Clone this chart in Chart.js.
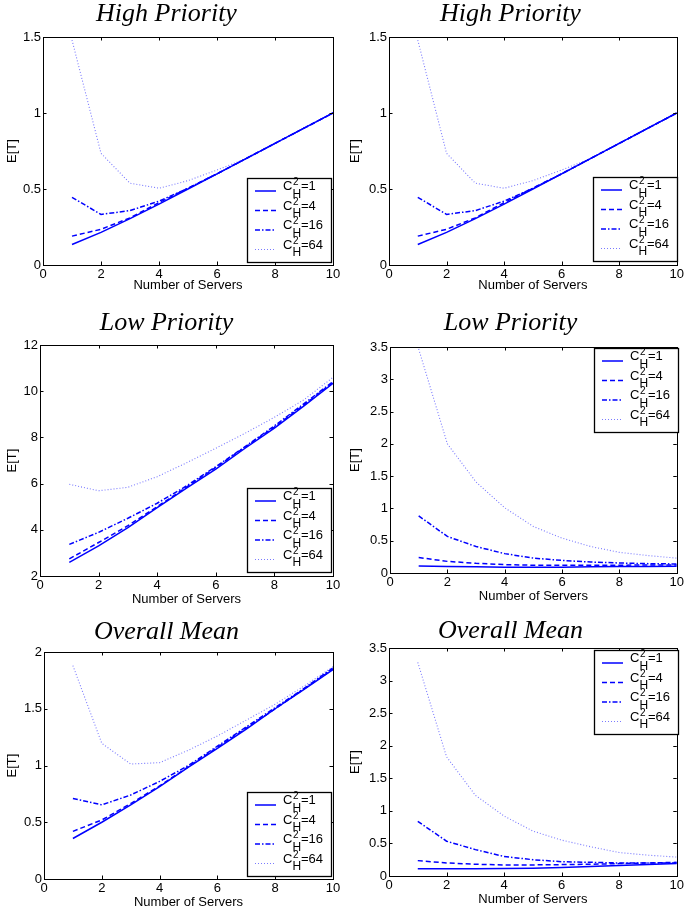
<!DOCTYPE html>
<html>
<head>
<meta charset="utf-8">
<script src="https://cdn.jsdelivr.net/npm/chart.js@4.4.1/dist/chart.umd.min.js"></script>
<style>
    html, body { margin: 0; padding: 0; background: #fff; }
    #page { position: relative; width: 686px; height: 913px; overflow: hidden; }
    .cell { position: absolute; }
</style>
</head>
<body>
<div id="page"></div>
<script>
// x values shared by every panel
const servers = [1, 2, 3, 4, 5, 6, 7, 8, 9, 10];
const cLabels = ["1", "4", "16", "64"];

// High Priority (both top panels)
const high1  = [0.135, 0.215, 0.305, 0.40, 0.50, 0.60, 0.70, 0.80, 0.90, 1.00];
const high4  = [0.19, 0.235, 0.31, 0.41, 0.505, 0.60, 0.70, 0.80, 0.90, 1.00];
const high16 = [0.445, 0.333, 0.358, 0.42, 0.505, 0.60, 0.70, 0.80, 0.90, 1.00];
const high64 = [1.48, 0.735, 0.538, 0.505, 0.555, 0.625, 0.70, 0.80, 0.90, 1.00];

// Low Priority, left panel
const lowA1  = [2.59, 3.30, 4.09, 4.96, 5.80, 6.63, 7.53, 8.40, 9.35, 10.34];
const lowA4  = [2.74, 3.45, 4.18, 5.00, 5.85, 6.70, 7.58, 8.45, 9.40, 10.38];
const lowA16 = [3.37, 3.89, 4.50, 5.15, 5.90, 6.73, 7.60, 8.50, 9.45, 10.42];
const lowA64 = [5.97, 5.69, 5.84, 6.30, 6.90, 7.53, 8.18, 8.87, 9.62, 10.60];

// Low Priority, right panel
const lowB1  = [0.11, 0.10, 0.095, 0.09, 0.09, 0.09, 0.095, 0.10, 0.10, 0.105];
const lowB4  = [0.24, 0.18, 0.15, 0.13, 0.12, 0.12, 0.12, 0.12, 0.125, 0.125];
const lowB16 = [0.885, 0.566, 0.41, 0.30, 0.23, 0.195, 0.17, 0.155, 0.145, 0.14];
const lowB64 = [3.47, 2.00, 1.41, 1.01, 0.72, 0.54, 0.41, 0.32, 0.27, 0.23];

// Overall Mean, left panel
const allA1  = [0.357, 0.50, 0.653, 0.814, 0.985, 1.15, 1.32, 1.50, 1.67, 1.845];
const allA4  = [0.42, 0.52, 0.665, 0.82, 0.99, 1.16, 1.33, 1.50, 1.675, 1.85];
const allA16 = [0.71, 0.653, 0.74, 0.86, 1.00, 1.17, 1.34, 1.51, 1.68, 1.86];
const allA64 = [1.88, 1.195, 1.013, 1.025, 1.135, 1.26, 1.40, 1.54, 1.70, 1.87];

// Overall Mean, right panel
const allB1  = [0.11, 0.11, 0.11, 0.115, 0.12, 0.13, 0.145, 0.16, 0.175, 0.19];
const allB4  = [0.236, 0.20, 0.18, 0.17, 0.17, 0.175, 0.18, 0.19, 0.20, 0.21];
const allB16 = [0.84, 0.534, 0.405, 0.30, 0.25, 0.22, 0.21, 0.20, 0.20, 0.20];
const allB64 = [3.28, 1.83, 1.24, 0.92, 0.69, 0.55, 0.45, 0.36, 0.32, 0.29];

const SANS = "'Liberation Sans', Arial, sans-serif";
const SERIF = "'Liberation Serif', 'Times New Roman', serif";

const lineStyles = [
    { color: "#0000ff", width: 1.5, dash: [] },
    { color: "#0000ff", width: 1.5, dash: [5, 3] },
    { color: "#0000ff", width: 1.5, dash: [5, 2, 1.5, 2] },
    { color: "#7a7aff", width: 1.1, dash: [1, 2] }
];

const panels = [
    { left: 0, top: 0, w: 343, h: 300, title: "High Priority", titleBase: 19, xTitleY: 285,
      plot: { l: 43, t: 37, r: 333, b: 265 }, yMin: 0, yMax: 1.5, yStep: 0.5,
      series: [high1, high4, high16, high64], legend: { x: 247, y: 178 } },
    { left: 343, top: 0, w: 343, h: 300, title: "High Priority", titleBase: 19, xTitleY: 285,
      plot: { l: 46, t: 37, r: 335, b: 265 }, yMin: 0, yMax: 1.5, yStep: 0.5,
      series: [high1, high4, high16, high64], legend: { x: 250, y: 177 } },
    { left: 0, top: 300, w: 343, h: 310, title: "Low Priority", titleBase: 28, xTitleY: 299,
      plot: { l: 40, t: 45, r: 333, b: 276 }, yMin: 2, yMax: 12, yStep: 2,
      series: [lowA1, lowA4, lowA16, lowA64], legend: { x: 247, y: 188 } },
    { left: 343, top: 300, w: 343, h: 310, title: "Low Priority", titleBase: 28, xTitleY: 296,
      plot: { l: 47, t: 47, r: 335, b: 273 }, yMin: 0, yMax: 3.5, yStep: 0.5,
      series: [lowB1, lowB4, lowB16, lowB64], legend: { x: 251, y: 48 } },
    { left: 0, top: 610, w: 343, h: 303, title: "Overall Mean", titleBase: 27, xTitleY: 292,
      plot: { l: 44, t: 42, r: 333, b: 269 }, yMin: 0, yMax: 2, yStep: 0.5,
      series: [allA1, allA4, allA16, allA64], legend: { x: 247, y: 182 } },
    { left: 343, top: 610, w: 343, h: 303, title: "Overall Mean", titleBase: 26, xTitleY: 289,
      plot: { l: 46, t: 38, r: 335, b: 266 }, yMin: 0, yMax: 3.5, yStep: 0.5,
      series: [allB1, allB4, allB16, allB64], legend: { x: 251, y: 40 } }
];

// box, inward ticks on all four sides, and the MATLAB style legend
const matlabFrame = {
    id: "matlabFrame",
    afterDatasetsDraw(chart, args, opts) {
        const ctx = chart.ctx;
        const a = chart.chartArea;
        const xs = chart.scales.x, ys = chart.scales.y;
        const tl = 3.5;
        ctx.save();
        ctx.strokeStyle = "#000";
        ctx.lineWidth = 1;
        ctx.setLineDash([]);
        ctx.beginPath();
        xs.ticks.forEach(t => {
            const px = Math.round(xs.getPixelForValue(t.value)) + 0.5;
            ctx.moveTo(px, a.bottom); ctx.lineTo(px, a.bottom - tl);
            ctx.moveTo(px, a.top); ctx.lineTo(px, a.top + tl);
        });
        ys.ticks.forEach(t => {
            const py = Math.round(ys.getPixelForValue(t.value)) + 0.5;
            ctx.moveTo(a.left, py); ctx.lineTo(a.left + tl, py);
            ctx.moveTo(a.right, py); ctx.lineTo(a.right - tl, py);
        });
        ctx.stroke();
        ctx.strokeRect(Math.round(a.left) + 0.5, Math.round(a.top) + 0.5,
            Math.round(a.right - a.left), Math.round(a.bottom - a.top));

        // legend
        const lg = opts.box;
        if (lg) {
            const bw = 84, bh = 84;
            ctx.fillStyle = "#fff";
            ctx.fillRect(lg.x, lg.y, bw, bh);
            ctx.lineWidth = 1.3;
            ctx.strokeRect(lg.x + 0.5, lg.y + 0.5, bw, bh);
            chart.data.datasets.forEach((ds, i) => {
                const ly = lg.y + 13 + i * 19.5;
                ctx.save();
                ctx.strokeStyle = ds.borderColor;
                ctx.lineWidth = ds.borderWidth;
                ctx.setLineDash(ds.borderDash);
                ctx.beginPath();
                ctx.moveTo(lg.x + 8, ly);
                ctx.lineTo(lg.x + 29, ly);
                ctx.stroke();
                ctx.restore();
                ctx.fillStyle = "#000";
                ctx.textBaseline = "alphabetic";
                ctx.textAlign = "left";
                ctx.font = "13px " + SANS;
                ctx.fillText("C", lg.x + 36, ly - 1);
                ctx.font = "10px " + SANS;
                ctx.fillText("2", lg.x + 46, ly - 6);
                ctx.font = "12px " + SANS;
                ctx.fillText("H", lg.x + 45.5, ly + 6.5);
                ctx.font = "13px " + SANS;
                ctx.fillText("=" + cLabels[i], lg.x + 54, ly - 1);
            });
        }
        ctx.restore();
    }
};

const page = document.getElementById("page");

panels.forEach(p => {
    const cell = document.createElement("div");
    cell.className = "cell";
    cell.style.left = p.left + "px";
    cell.style.top = p.top + "px";
    cell.style.width = p.w + "px";
    cell.style.height = p.h + "px";
    const canvas = document.createElement("canvas");
    canvas.width = p.w;
    canvas.height = p.h;
    cell.appendChild(canvas);
    page.appendChild(cell);

    const titlePadTop = p.titleBase - 15.5;
    const titlePadBottom = p.plot.t - 20.8 - titlePadTop;

    new Chart(canvas, {
        type: "line",
        data: {
            datasets: p.series.map((vals, i) => ({
                label: "C_H^2=" + cLabels[i],
                data: servers.map((x, j) => ({ x: x, y: vals[j] })),
                borderColor: lineStyles[i].color,
                borderWidth: lineStyles[i].width,
                borderDash: lineStyles[i].dash,
                pointRadius: 0,
                tension: 0,
                fill: false
            }))
        },
        options: {
            responsive: false,
            animation: false,
            devicePixelRatio: 1,
            layout: { padding: { left: 0, top: 0, bottom: 0, right: p.w - p.plot.r } },
            plugins: {
                legend: { display: false },
                tooltip: { enabled: false },
                title: {
                    display: true,
                    text: p.title,
                    color: "#000",
                    font: { family: SERIF, style: "italic", weight: "normal", size: 26, lineHeight: 0.8 },
                    padding: { top: titlePadTop, bottom: titlePadBottom }
                },
                matlabFrame: { box: p.legend }
            },
            scales: {
                x: {
                    type: "linear",
                    min: 0,
                    max: 10,
                    afterFit: s => { s.height = p.h - p.plot.b; },
                    ticks: { stepSize: 2, padding: 2, color: "#000", maxRotation: 0, autoSkip: false,
                             font: { family: SANS, size: 13 } },
                    grid: { display: false, drawTicks: false },
                    border: { display: false },
                    title: { display: true, text: "Number of Servers", color: "#000",
                             font: { family: SANS, size: 13, lineHeight: 1.2 },
                             padding: { top: 0, bottom: (p.h - p.xTitleY) - 7.8 } }
                },
                y: {
                    type: "linear",
                    min: p.yMin,
                    max: p.yMax,
                    afterFit: s => { s.width = p.plot.l; },
                    ticks: { stepSize: p.yStep, padding: 2, color: "#000",
                             font: { family: SANS, size: 13 },
                             callback: v => String(v) },
                    grid: { display: false, drawTicks: false },
                    border: { display: false },
                    title: { display: true, text: "E[T]", color: "#000",
                             font: { family: SANS, size: 13, lineHeight: 1.2 },
                             padding: { top: 4.2, bottom: 0 } }
                }
            }
        },
        plugins: [matlabFrame]
    });
});
</script>
</body>
</html>
